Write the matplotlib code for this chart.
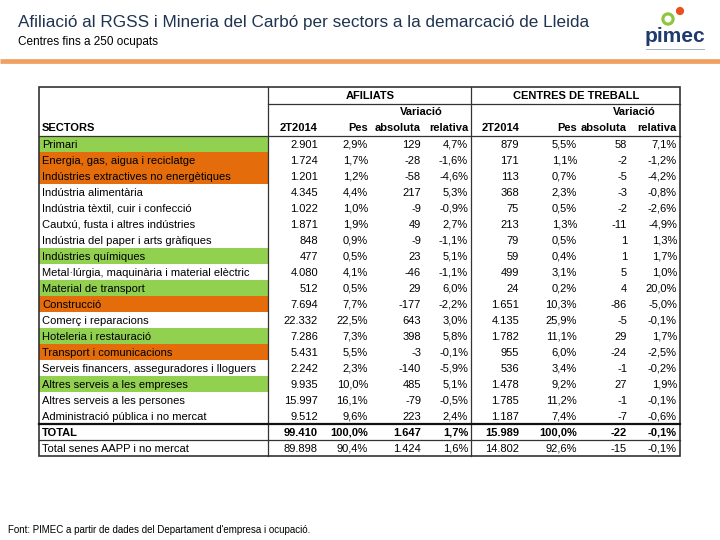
import matplotlib
matplotlib.use('Agg')
from matplotlib import pyplot as plt
from matplotlib.patches import Rectangle, Circle

plt.rcParams['font.family'] = ['Liberation Sans', 'DejaVu Sans']

sectors = [
    'Primari', 'Energia, gas, aigua i reciclatge',
    'Indústries extractives no energètiques', 'Indústria alimentària',
    'Indústria tèxtil, cuir i confecció', 'Cautxú, fusta i altres indústries',
    'Indústria del paper i arts gràfiques', 'Indústries químiques',
    'Metal·lúrgia, maquinària i material elèctric', 'Material de transport',
    'Construcció', 'Comerç i reparacions', 'Hoteleria i restauració',
    'Transport i comunicacions', 'Serveis financers, asseguradores i lloguers',
    'Altres serveis a les empreses', 'Altres serveis a les persones',
    'Administració pública i no mercat', 'TOTAL',
    'Total senes AAPP i no mercat',
]
afil_2t = [2901, 1724, 1201, 4345, 1022, 1871, 848, 477, 4080, 512, 7694,
           22332, 7286, 5431, 2242, 9935, 15997, 9512, 99410, 89898]
afil_pes = [2.9, 1.7, 1.2, 4.4, 1.0, 1.9, 0.9, 0.5, 4.1, 0.5, 7.7, 22.5, 7.3,
            5.5, 2.3, 10.0, 16.1, 9.6, 100.0, 90.4]
afil_abs = [129, -28, -58, 217, -9, 49, -9, 23, -46, 29, -177, 643, 398, -3,
            -140, 485, -79, 223, 1647, 1424]
afil_rel = [4.7, -1.6, -4.6, 5.3, -0.9, 2.7, -1.1, 5.1, -1.1, 6.0, -2.2, 3.0,
            5.8, -0.1, -5.9, 5.1, -0.5, 2.4, 1.7, 1.6]
cent_2t = [879, 171, 113, 368, 75, 213, 79, 59, 499, 24, 1651, 4135, 1782,
           955, 536, 1478, 1785, 1187, 15989, 14802]
cent_pes = [5.5, 1.1, 0.7, 2.3, 0.5, 1.3, 0.5, 0.4, 3.1, 0.2, 10.3, 25.9,
            11.1, 6.0, 3.4, 9.2, 11.2, 7.4, 100.0, 92.6]
cent_abs = [58, -2, -5, -3, -2, -11, 1, 1, 5, 4, -86, -5, 29, -24, -1, 27,
            -1, -7, -22, -15]
cent_rel = [7.1, -1.2, -4.2, -0.8, -2.6, -4.9, 1.3, 1.7, 1.0, 20.0, -5.0,
            -0.1, 1.7, -2.5, -0.2, 1.9, -0.1, -0.6, -0.1, -0.1]
# g = green, o = orange, '' = white
row_fill = ['g', 'o', 'o', '', '', '', '', 'g', '', 'g', 'o', '', 'g', 'o',
            '', 'g', '', '', '', '']

GREEN = '#92D050'
ORANGE = '#E46C0A'
fills = {'g': GREEN, 'o': ORANGE}


def fmt_int(v):
    return f'{v:,}'.replace(',', '.')


def fmt_pct(v):
    return f'{v:.1f}%'.replace('.', ',')


fig = plt.figure(figsize=(7.2, 5.4), dpi=100)
ax = fig.add_axes([0, 0, 1, 1])
ax.set_xlim(0, 720)
ax.set_ylim(540, 0)
ax.axis('off')

# header / title
ax.text(18, 22, 'Afiliació al RGSS i Mineria del Carbó per sectors a la demarcació de Lleida',
        fontsize=12.3, color='#1F3450', va='center', ha='left')
ax.text(18, 42, 'Centres fins a 250 ocupats', fontsize=8.5, va='center', ha='left')
ax.plot([0, 720], [61, 61], color='#F0A060', lw=3.4, solid_capstyle='butt')

# logo
ax.text(675, 37, 'pimec', fontsize=15, color='#1F3A6E', ha='center', va='center',
        fontweight='bold')
ax.add_patch(Circle((668, 19), 6, color='#8DC63F'))
ax.add_patch(Circle((668, 19), 2.8, color='white'))
ax.add_patch(Circle((680, 11), 3.4, color='#E8501E'))
ax.plot([646, 704], [49, 49], color='#9AA4B8', lw=0.6)

# table geometry
left, right = 39, 680
top = 87
row_h = 16
first_row = 136
n = len(sectors)
bottom = first_row + n * row_h

# coloured sector cells
for i, f in enumerate(row_fill):
    if f:
        ax.add_patch(Rectangle((left, first_row + i * row_h), 268 - left, row_h,
                               color=fills[f], lw=0))

# grid lines
ax.add_patch(Rectangle((left, top), right - left, bottom - top, fill=False,
                       ec='#333333', lw=1.2))
ax.plot([268, 268], [top, bottom], color='#333333', lw=0.9)
ax.plot([471, 471], [top, bottom], color='#333333', lw=0.9)
ax.plot([268, right], [104, 104], color='#333333', lw=0.9)
ax.plot([left, right], [first_row, first_row], color='#333333', lw=0.9)
y_tot = first_row + 18 * row_h
ax.plot([left, right], [y_tot, y_tot], color='#111111', lw=1.6)
ax.plot([left, right], [y_tot + row_h, y_tot + row_h], color='#333333', lw=0.9)

hdr = dict(fontsize=8, fontweight='bold', va='center')
ax.text(370, 96, 'AFILIATS', ha='center', **hdr)
ax.text(576, 96, 'CENTRES DE TREBALL', ha='center', **hdr)
ax.text(421, 112, 'Variació', ha='center', **hdr)
ax.text(634, 112, 'Variació', ha='center', **hdr)
ax.text(42, 128, 'SECTORS', ha='left', **hdr)
col_right = [318, 368, 421, 468, 519, 577, 627, 677]
for x, lab in zip(col_right, ['2T2014', 'Pes', 'absoluta', 'relativa',
                              '2T2014', 'Pes', 'absoluta', 'relativa']):
    ax.text(x, 128, lab, ha='right', **hdr)

cols = [(afil_2t, fmt_int), (afil_pes, fmt_pct), (afil_abs, fmt_int),
        (afil_rel, fmt_pct), (cent_2t, fmt_int), (cent_pes, fmt_pct),
        (cent_abs, fmt_int), (cent_rel, fmt_pct)]

for i, name in enumerate(sectors):
    y = first_row + i * row_h + row_h / 2 + 0.5
    fw = 'bold' if name == 'TOTAL' else 'normal'
    ax.text(42, y, name, ha='left', va='center', fontsize=8, fontweight=fw)
    for x, (vals, fmt) in zip(col_right, cols):
        ax.text(x, y, fmt(vals[i]), ha='right', va='center', fontsize=8,
                fontweight=fw)

ax.text(8, 530, "Font: PIMEC a partir de dades del Departament d'empresa i ocupació.",
        fontsize=7, ha='left', va='center')

fig.savefig('out.png', dpi=100)
